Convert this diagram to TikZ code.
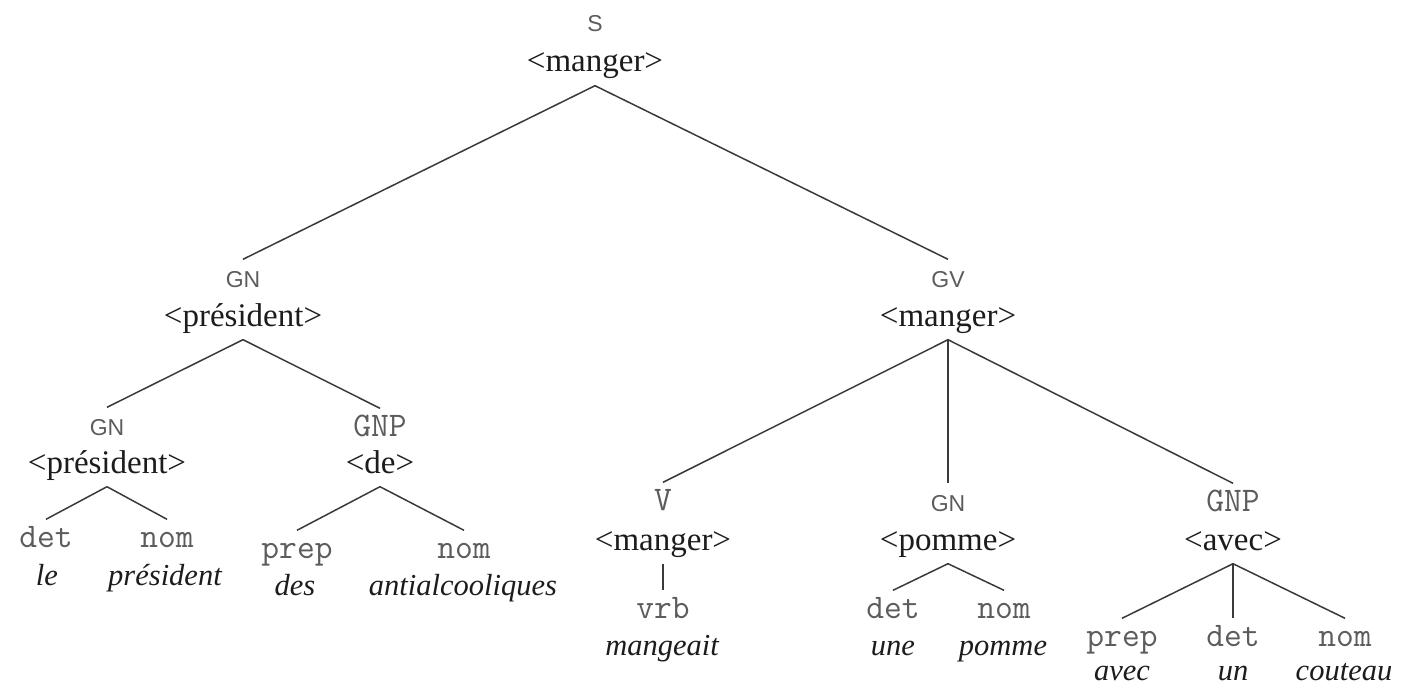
\documentclass[tikz,border=0pt]{standalone}
\usepackage{fontspec}
\setmainfont{Liberation Serif}
\setsansfont{Liberation Sans}
\definecolor{catgray}{HTML}{5C5C5C}
\definecolor{ink}{HTML}{1C1C1C}
\definecolor{edge}{HTML}{3A3A3A}
\begin{document}
\begin{tikzpicture}[x=1pt,y=-1pt,
  cat/.style={anchor=base, inner sep=0pt, text height=27.5pt, text=catgray,
              font=\fontsize{34.5}{40}\selectfont\ttfamily},
  catsf/.style={cat, font=\fontsize{23}{28}\selectfont\sffamily},
  head/.style={anchor=base, inner sep=0pt, text depth=13.5pt, text=ink,
               font=\fontsize{33}{40}\selectfont},
  word/.style={anchor=base, inner sep=0pt, text=ink,
               font=\fontsize{30.5}{36}\selectfont\itshape},
  branch/.style={draw=edge, line width=1.5pt}]
\useasboundingbox (0,0) rectangle (1419,685);

% root
\node[catsf] (S-c) at (595,32) {S};
\node[head]  (S-h) at (595,72) {<manger>};

% subject noun phrase
\node[catsf] (GN-c) at (243,287) {GN};
\node[head]  (GN-h) at (243,326) {<président>};
\node[catsf] (GNa-c) at (107,435) {GN};
\node[head]  (GNa-h) at (107,473) {<président>};
\node[cat]   (deta-c) at (46,547) {det};
\node[word]  (le)     at (47,585) {le};
\node[cat]   (noma-c) at (167,547) {nom};
\node[word]  (president) at (165,585) {président};
\node[cat]   (GNPa-c) at (380,436) {GNP};
\node[head]  (GNPa-h) at (380,473) {<de>};
\node[cat]   (prepa-c) at (297,558) {prep};
\node[word]  (des)     at (295,595) {des};
\node[cat]   (nomb-c)  at (464,558) {nom};
\node[word]  (antialc) at (463,595) {antialcooliques};

% verb phrase
\node[catsf] (GV-c) at (948,287) {GV};
\node[head]  (GV-h) at (948,326) {<manger>};
\node[cat]   (V-c)  at (663,510) {V};
\node[head]  (V-h)  at (663,550) {<manger>};
\node[cat]   (vrb-c) at (663,618) {vrb};
\node[word]  (mangeait) at (662,655) {mangeait};
\node[catsf] (GNb-c) at (948,511) {GN};
\node[head]  (GNb-h) at (948,550) {<pomme>};
\node[cat]   (detb-c) at (893,618) {det};
\node[word]  (une)    at (893,655) {une};
\node[cat]   (nomc-c) at (1004,618) {nom};
\node[word]  (pomme)  at (1003,655) {pomme};
\node[cat]   (GNPb-c) at (1233,511) {GNP};
\node[head]  (GNPb-h) at (1233,550) {<avec>};
\node[cat]   (prepb-c) at (1122,646) {prep};
\node[word]  (avec)    at (1122,680) {avec};
\node[cat]   (detc-c)  at (1233,646) {det};
\node[word]  (un)      at (1233,680) {un};
\node[cat]   (nomd-c)  at (1345,646) {nom};
\node[word]  (couteau) at (1344,680) {couteau};

% branches
\draw[branch] (S-h.south) -- (GN-c.north);
\draw[branch] (S-h.south) -- (GV-c.north);
\draw[branch] (GN-h.south) -- (GNa-c.north);
\draw[branch] (GN-h.south) -- (GNPa-c.north);
\draw[branch] (GNa-h.south) -- (deta-c.north);
\draw[branch] (GNa-h.south) -- (noma-c.north);
\draw[branch] (GNPa-h.south) -- (prepa-c.north);
\draw[branch] (GNPa-h.south) -- (nomb-c.north);
\draw[branch] (GV-h.south) -- (V-c.north);
\draw[branch] (GV-h.south) -- (GNb-c.north);
\draw[branch] (GV-h.south) -- (GNPb-c.north);
\draw[branch] (V-h.south) -- (vrb-c.north);
\draw[branch] (GNb-h.south) -- (detb-c.north);
\draw[branch] (GNb-h.south) -- (nomc-c.north);
\draw[branch] (GNPb-h.south) -- (prepb-c.north);
\draw[branch] (GNPb-h.south) -- (detc-c.north);
\draw[branch] (GNPb-h.south) -- (nomd-c.north);
\end{tikzpicture}
\end{document}
